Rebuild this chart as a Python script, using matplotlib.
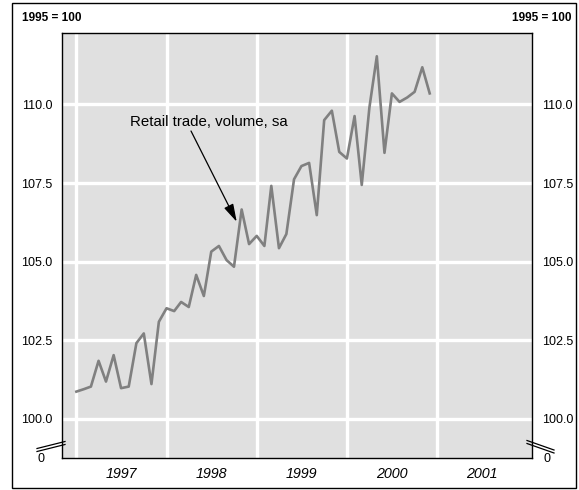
import pandas as pd
import matplotlib.pyplot as plt
from matplotlib.patches import Rectangle
from matplotlib.lines import Line2D

plt.rcParams['font.family'] = ['Liberation Sans', 'DejaVu Sans']

# Retail trade volume index, seasonally adjusted (1995 = 100), monthly Jan 1997 - Dec 2000
start_month = "1997-01-01"
retail_volume = [
    100.87, 100.95, 101.03, 101.85, 101.19, 102.03, 100.98, 101.03, 102.41, 102.72, 101.11, 103.09,
    103.52, 103.43, 103.72, 103.56, 104.58, 103.91, 105.32, 105.50, 105.05, 104.84, 106.66, 105.56,
    105.82, 105.50, 107.41, 105.43, 105.88, 107.62, 108.04, 108.14, 106.48, 109.50, 109.80, 108.49,
    108.28, 109.63, 107.44, 109.90, 111.53, 108.46, 110.35, 110.08, 110.22, 110.40, 111.18, 110.35,
]
years = [1997, 1998, 1999, 2000, 2001]
y_ticks = [100.0, 102.5, 105.0, 107.5, 110.0]
series_label = "Retail trade, volume, sa"
base_label = "1995 = 100"

months = pd.date_range(start_month, periods=len(retail_volume), freq="MS")

fig = plt.figure(figsize=(5.79, 4.9), dpi=100)
ax = fig.add_axes([62 / 579, 32 / 490, 470 / 579, 425 / 490])
ax.set_facecolor("#e0e0e0")

# cadre extérieur
fig.patches.append(Rectangle((12 / 579, 2 / 490), 564 / 579, 485 / 490,
                             transform=fig.transFigure, fill=False,
                             edgecolor="black", linewidth=1.0))

# grille blanche
for y in y_ticks:
    ax.axhline(y, color="white", linewidth=2.4, zorder=1)
for yr in years:
    ax.axvline(pd.Timestamp(f"{yr}-01-01"), color="white", linewidth=2.4, zorder=1)

ax.plot(months, retail_volume, color="#808080", linewidth=1.9, zorder=3)

ax.set_xlim(pd.Timestamp("1996-11-04"), pd.Timestamp("2002-01-19"))
ax.set_ylim(98.76, 112.27)

ax.set_xticks([])
ax.set_yticks(y_ticks)
ax.set_yticklabels([f"{v:.1f}" for v in y_ticks], fontsize=9)
ax.tick_params(axis="y", length=0, pad=7, labelleft=True, labelright=True)
for s in ax.spines.values():
    s.set_linewidth(1.0)

# années centrées
for yr in years:
    ax.text(pd.Timestamp(f"{yr}-07-01"), -0.02, str(yr), transform=ax.get_xaxis_transform(),
            ha="center", va="top", fontsize=10.3, style="italic")

# zéro et marques de rupture d'axe
fig.text(41.5 / 579, 1 - 459 / 490, "0", ha="center", va="center", fontsize=9)
fig.text(546.5 / 579, 1 - 459 / 490, "0", ha="center", va="center", fontsize=9)
for dy in (0, 3):
    fig.add_artist(Line2D([37 / 579, 65 / 579], [1 - (448.5 + dy) / 490, 1 - (441.5 + dy) / 490],
                          transform=fig.transFigure, color="black", linewidth=0.9))
    fig.add_artist(Line2D([527 / 579, 554 / 579], [1 - (440.5 + dy) / 490, 1 - (450 + dy) / 490],
                          transform=fig.transFigure, color="black", linewidth=0.9))

fig.text(22 / 579, 1 - 18 / 490, base_label, ha="left", va="center", fontsize=8.5, fontweight="bold")
fig.text(572 / 579, 1 - 18 / 490, base_label, ha="right", va="center", fontsize=8.5, fontweight="bold")

# étiquette de la série et flèche
fig.text(130 / 579, 1 - 121.5 / 490, series_label, ha="left", va="center", fontsize=10.8)
ax.annotate("", xy=(pd.Timestamp("1998-10-12"), 106.27),
            xytext=(191 / 579, 1 - 131 / 490), textcoords="figure fraction", zorder=5,
            arrowprops=dict(arrowstyle="-|>,head_length=0.6,head_width=0.17", color="black",
                            lw=0.9, shrinkA=0, shrinkB=0, mutation_scale=18))

fig.savefig("out.png", dpi=100)
